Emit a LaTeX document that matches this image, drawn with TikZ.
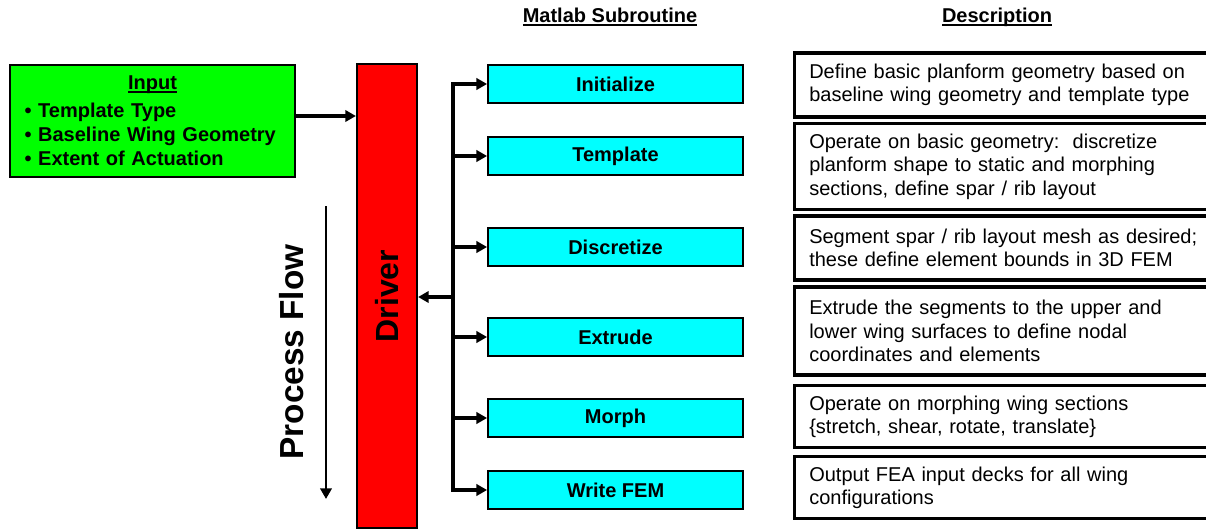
\documentclass[tikz,border=0pt]{standalone}
\usepackage{fontspec}
\setmainfont{Liberation Sans}
\usetikzlibrary{arrows.meta}
\definecolor{subcyan}{RGB}{0,255,255}
\definecolor{inpgreen}{RGB}{0,255,0}
\definecolor{drvred}{RGB}{255,0,0}
\newcommand{\undl}[1]{\setbox0\hbox{#1}\rlap{\rule[-2.2pt]{\wd0}{1.1pt}}\box0}

\begin{document}
\begin{tikzpicture}[x=0.75pt,y=-0.75pt,
    sub/.style={draw, line width=1.6pt, fill=subcyan, minimum width=191pt, minimum height=29pt, font=\bfseries\fontsize{15}{18}\selectfont},
    desc/.style={draw, line width=2.4pt, anchor=west, text width=296pt, inner xsep=11pt, align=left, font=\fontsize{15}{17.5}\selectfont},
    link/.style={line width=2.4pt, -{Triangle[length=8pt,width=8.5pt]}},
    head/.style={anchor=base, font=\bfseries\fontsize{15}{18}\selectfont}]
\useasboundingbox (0,0) rectangle (1206,531);

\node[head] (hsub) at (610,23) {\undl{Matlab Subroutine}};
\node[head] (hdesc) at (997,23) {\undl{Description}};

\node[draw, line width=1.6pt, fill=inpgreen, minimum width=214pt, minimum height=84pt, text width=192pt, inner xsep=11pt, font=\bfseries\fontsize{15}{18}\selectfont] (inp) at (152.5,121)
  {{\centering\undl{Input}\par}\vspace{3pt}\textbullet\ Template Type\\\textbullet\ Baseline Wing Geometry\\\textbullet\ Extent of Actuation};

\node[draw, line width=1.6pt, fill=drvred, minimum width=45pt, minimum height=348pt, font=\bfseries\fontsize{24}{28}\selectfont] (drv) at (387,296) {\rotatebox{90}{Driver}};

\node[font=\bfseries\fontsize{25}{30}\selectfont] (pf) at (292,352) {\rotatebox{90}{Process Flow}};
\coordinate (pftop) at (326,206);
\coordinate (pfbot) at (326,499);

\node[sub] (t1) at (615.5,84) {Initialize};
\node[sub] (t2) at (615.5,156) {Template};
\node[sub] (t3) at (615.5,247) {Discretize};
\node[sub] (t4) at (615.5,337) {Extrude};
\node[sub] (t5) at (615.5,418) {Morph};
\node[sub] (t6) at (615.5,490) {Write FEM};

\node[desc, minimum height=48pt] (d1) at (793,85) {Define basic planform geometry based on\\baseline wing geometry and template type};
\node[desc, minimum height=65pt] (d2) at (793,166.5) {Operate on basic geometry:\ \ discretize\\planform shape to static and morphing\\sections, define spar / rib layout};
\node[desc, minimum height=48pt] (d3) at (793,248) {Segment spar / rib layout mesh as desired;\\these define element bounds in 3D FEM};
\node[desc, minimum height=66pt] (d4) at (793,331) {Extrude the segments to the upper and\\lower wing surfaces to define nodal\\coordinates and elements};
\node[desc, minimum height=47pt] (d5) at (793,416.5) {Operate on morphing wing sections\\\{stretch, shear, rotate, translate\}};
\node[desc, minimum height=47pt] (d6) at (793,487.5) {Output FEA input decks for all wing\\configurations};

% bus to the subroutines
\coordinate (b0) at (453,297);
\coordinate (b1) at (453,84);
\coordinate (b2) at (453,156);
\coordinate (b3) at (453,247);
\coordinate (b4) at (453,337);
\coordinate (b5) at (453,418);
\coordinate (b6) at (453,490);
\draw[line width=2.4pt, line cap=rect] (b1) -- (b6);

\path
    (b1) edge[link] (t1)
    (b2) edge[link] (t2)
    (b3) edge[link] (t3)
    (b4) edge[link] (t4)
    (b5) edge[link] (t5)
    (b6) edge[link] (t6)
    (b0) edge[link] (b0 -| drv.east)
    ([yshift=3.75pt]inp.east) edge[link] ([yshift=3.75pt]inp.east -| drv.west)
    (pftop) edge[line width=2pt, -{Triangle[length=8pt,width=8.5pt]}] (pfbot);
\end{tikzpicture}
\end{document}
